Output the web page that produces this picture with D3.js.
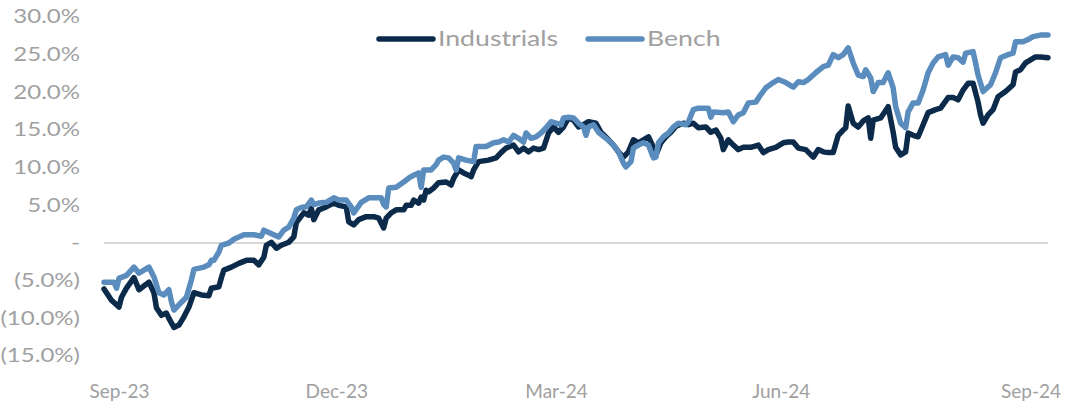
<!DOCTYPE html>
<html>
<head>
<meta charset="utf-8">
<script src="https://cdn.jsdelivr.net/npm/d3@7"></script>
<style>
  html, body { margin: 0; padding: 0; background: #ffffff; }
  svg { display: block; }
  text { font-family: Lato, "Open Sans", sans-serif; }
</style>
</head>
<body>
<svg id="chart" width="1088" height="408"></svg>
<script>
// ---------- DATA ----------
const seriesNames = ["Industrials", "Bench"];
const startDate = "2023-09-15";
const spanDays = 378;

// day offsets from startDate, and cumulative return (%)
const industrialsDay = [0,1,3,6,7,9,12,14,18,20,21,23,25,26,28,30,32,34,36,39,42,43,46,47,48,51,54,57,60,62,64,65,67,69,71,74,76,77,80,82,83,84,86,89,92,94,97,98,100,102,105,108,110,112,113,115,117,120,121,123,124,126,127,128,129,130,132,134,137,139,140,142,144,146,147,148,150,152,154,157,159,161,164,166,168,170,172,174,176,178,180,182,184,186,188,190,192,194,197,199,202,204,206,208,210,212,214,216,218,220,221,223,225,227,229,232,234,236,238,241,243,245,247,248,250,252,254,256,259,262,264,266,269,272,274,276,278,281,284,286,288,290,292,294,296,297,298,300,302,304,306,307,308,311,314,316,317,319,321,322,324,326,328,330,333,335,338,340,342,344,346,348,350,351,352,354,356,358,361,364,365,367,369,371,373,375,378];
const industrialsVal = [-6.1,-6.6,-7.6,-8.5,-7.2,-6.0,-4.6,-6.2,-5.2,-6.6,-8.6,-9.6,-9.3,-10.0,-11.2,-10.9,-9.8,-8.5,-6.6,-6.9,-7.0,-6.0,-5.8,-4.6,-3.6,-3.2,-2.7,-2.3,-2.3,-2.9,-1.9,-0.3,0.1,-0.7,-0.3,0.1,0.8,2.7,4.0,3.7,4.6,3.1,4.4,4.8,5.3,5.0,4.8,2.8,2.4,3.1,3.5,3.5,3.3,2.0,3.3,4.0,4.4,4.4,5.0,5.0,5.7,5.3,6.1,5.7,7.0,6.8,7.3,8.0,8.1,7.7,8.6,9.7,9.3,9.0,8.8,9.7,10.8,10.9,11.0,11.3,12.0,12.6,13.0,12.1,12.6,12.1,12.6,12.4,12.6,14.6,15.4,14.7,15.4,16.6,16.3,15.4,15.7,16.1,15.9,14.7,13.7,13.0,12.1,11.4,12.1,13.7,13.3,13.7,14.1,12.7,11.7,13.3,14.1,14.7,15.5,15.9,15.7,15.9,15.3,15.4,14.7,15.0,13.9,12.4,13.7,13.0,12.4,12.7,12.7,13.0,12.0,12.4,12.7,13.3,13.4,13.4,12.6,12.4,11.4,12.4,12.1,12.0,12.0,14.3,15.0,15.3,18.2,15.9,15.4,16.2,16.6,13.9,16.3,16.6,18.1,14.7,12.7,11.7,12.1,14.6,14.3,14.1,15.7,17.3,17.7,17.9,19.3,19.3,19.0,20.3,21.2,21.2,18.7,17.0,15.9,17.0,17.7,19.4,20.1,21.0,22.7,23.0,23.9,24.3,24.7,24.7,24.6];

const benchDay = [0,1,4,5,6,9,12,14,18,20,22,24,26,27,28,30,33,35,36,40,42,43,44,46,47,50,52,56,60,63,64,68,70,72,74,76,77,79,81,83,84,86,89,92,94,97,99,100,103,106,109,111,112,113,114,117,120,122,124,126,127,128,131,133,134,136,138,140,141,142,145,148,149,151,153,156,158,160,162,164,166,168,169,171,173,175,177,179,181,183,184,186,188,190,192,193,194,196,198,201,204,206,208,209,211,212,214,216,218,220,221,222,224,226,228,230,233,234,236,238,242,243,244,248,250,252,254,256,258,261,263,265,268,270,273,276,278,280,282,285,288,290,292,294,296,298,300,302,304,305,307,308,310,312,314,316,317,319,321,322,324,326,328,330,332,334,337,338,340,342,344,345,348,349,350,352,355,357,359,362,364,365,368,370,372,375,378];
const benchVal = [-5.2,-5.2,-5.2,-6.0,-4.7,-4.3,-3.2,-4.0,-3.2,-4.5,-6.6,-6.9,-6.2,-7.8,-8.9,-8.2,-7.2,-4.9,-3.5,-3.2,-2.9,-2.3,-2.3,-1.2,-0.3,0.0,0.5,1.1,1.1,0.9,1.7,1.1,0.8,1.7,2.1,3.3,4.4,4.7,4.8,5.7,5.1,5.3,5.4,6.0,5.7,5.7,4.8,4.0,5.4,6.0,6.0,6.0,5.1,4.8,7.3,7.4,8.1,8.6,9.0,9.3,7.4,9.7,9.7,10.4,11.0,11.4,11.3,10.6,9.7,11.3,11.0,10.8,12.8,12.8,12.8,13.3,13.4,13.7,13.4,14.3,13.9,13.4,14.6,13.9,14.1,14.6,15.3,16.1,15.9,15.7,16.6,16.7,16.6,15.9,15.4,14.3,15.4,15.7,14.7,13.9,13.0,12.1,10.6,10.1,10.8,12.6,13.0,13.3,13.0,11.3,11.4,13.3,14.1,14.6,15.4,15.9,15.7,16.1,17.7,17.9,17.9,16.7,17.4,17.3,17.4,16.1,17.0,17.3,18.6,18.7,19.7,20.6,21.3,21.7,21.3,20.7,21.4,21.3,21.7,22.6,23.4,23.6,25.0,24.6,25.0,25.9,23.9,22.3,22.1,23.0,21.9,20.1,21.3,21.3,22.6,20.6,18.1,15.9,15.3,17.4,18.6,18.6,20.3,22.6,23.9,24.7,25.0,23.6,24.7,24.6,24.0,25.2,25.4,23.9,22.3,20.1,21.0,22.6,24.6,25.0,25.2,26.7,26.7,27.0,27.4,27.6,27.6];

const yTicks = [30, 25, 20, 15, 10, 5, 0, -5, -10, -15];
const xTickDates = ["2023-09-21", "2023-12-17", "2024-03-14", "2024-06-12", "2024-09-20"];
const xTickLabels = ["Sep-23", "Dec-23", "Mar-24", "Jun-24", "Sep-24"];

// ---------- CHART ----------
const colors = { "Industrials": "#0c2b4b", "Bench": "#5a8dbd" };
const textColor = "#a0a0a0";
const stretch = "scale(1.3,1)";
const parse = d3.utcParse("%Y-%m-%d");
const t0 = parse(startDate);
const t1 = d3.utcDay.offset(t0, spanDays);

const svg = d3.select("#chart");
const x = d3.scaleUtc().domain([t0, t1]).range([104, 1048]);
const y = d3.scaleLinear().domain([-15, 30]).range([356, 17]);

const fmtPct = v => v === 0 ? "-" : (v < 0 ? "(" + Math.abs(v).toFixed(1) + "%)" : v.toFixed(1) + "%");

// Y axis labels
const yAxis = d3.axisLeft(y).tickValues(yTicks).tickFormat(fmtPct).tickSize(0).tickPadding(0);
const gy = svg.append("g").attr("transform", "translate(80,0)").call(yAxis);
gy.select(".domain").remove();
gy.selectAll("text").attr("fill", textColor).attr("transform", stretch)
  .style("font-size", "18.5px").style("font-family", "Lato, sans-serif");

// X axis labels
const xLabelMap = new Map(xTickDates.map((d, i) => [+parse(d), xTickLabels[i]]));
const xAxis = d3.axisBottom(x).tickValues(xTickDates.map(parse))
  .tickFormat(d => xLabelMap.get(+d)).tickSize(0).tickPadding(0);
const gx = svg.append("g").attr("transform", "translate(0,384)").call(xAxis);
gx.select(".domain").remove();
gx.selectAll("text").attr("fill", textColor)
  .style("font-size", "19px").style("font-family", "Lato, sans-serif");

// zero gridline
svg.append("line")
  .attr("x1", x(t0)).attr("x2", x(t1))
  .attr("y1", y(0)).attr("y2", y(0))
  .attr("stroke", "#d9d9d9").attr("stroke-width", 2);

// lines
const mk = (days, vals) => days.map((d, i) => ({ date: d3.utcDay.offset(t0, d), v: vals[i] }));
const series = [
  { name: "Bench", data: mk(benchDay, benchVal) },
  { name: "Industrials", data: mk(industrialsDay, industrialsVal) }
];
const line = d3.line().x(d => x(d.date)).y(d => y(d.v)).curve(d3.curveLinear);

["Industrials", "Bench"].forEach(name => {
  const s = series.find(s => s.name === name);
  svg.append("path")
    .datum(s.data)
    .attr("d", line)
    .attr("fill", "none")
    .attr("stroke", colors[name])
    .attr("stroke-width", 5.5)
    .attr("stroke-linejoin", "round")
    .attr("stroke-linecap", "round");
});

// legend
const legend = svg.append("g").attr("transform", "translate(0,39)");
const legendPos = [{ x: 379 }, { x: 588 }];
seriesNames.forEach((name, i) => {
  const g = legend.append("g").attr("transform", `translate(${legendPos[i].x},0)`);
  g.append("line").attr("x1", 0).attr("x2", 54).attr("y1", 0).attr("y2", 0)
    .attr("stroke", colors[name]).attr("stroke-width", 5.5).attr("stroke-linecap", "round");
  g.append("text").attr("transform", `translate(59,0) ${stretch}`).attr("dy", "0.35em")
    .attr("fill", textColor).style("font-size", "20.5px").text(name);
});
</script>
</body>
</html>
